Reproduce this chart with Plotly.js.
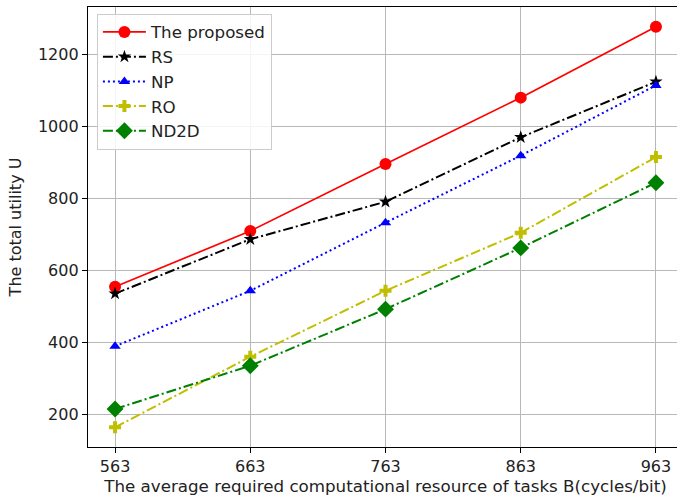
<!DOCTYPE html>
<html>
<head>
<meta charset="utf-8">
<script src="https://cdn.plot.ly/plotly-3.0.1.min.js"></script>
<style>html,body{margin:0;padding:0;overflow:hidden;background:#fff;}#chart{width:690px;height:502px;}</style>
</head>
<body>
<div id="chart"></div>
<script>
const xTicks = [563, 663, 763, 863, 963];
const proposed = [554, 709, 895, 1079, 1276];
const rs = [535, 686, 790, 969, 1123];
const np = [389, 543, 732, 918, 1113];
const ro = [164, 360, 543, 704, 914];
const nd2d = [215, 335, 492, 662, 843];

const font = {family: 'DejaVu Sans', size: 16, color: '#222'};
const dashdot = '10px,3px,2px,3px';

const traces = [
  {name: 'The proposed', y: proposed, line: {color: '#ff0000', width: 1.7, dash: 'solid'}, marker: {symbol: 'circle', size: 12, color: '#ff0000'}},
  {name: 'RS', y: rs, line: {color: '#000000', width: 2, dash: dashdot}, marker: {symbol: 'star', size: 10, color: '#000000'}},
  {name: 'NP', y: np, line: {color: '#0000ff', width: 2, dash: '2px,3px'}, marker: {symbol: 'triangle-up', size: 10, color: '#0000ff'}},
  {name: 'RO', y: ro, line: {color: '#bfbf00', width: 2, dash: dashdot}, marker: {symbol: 'cross', size: 10, color: '#bfbf00'}},
  {name: 'ND2D', y: nd2d, line: {color: '#008000', width: 2, dash: dashdot}, marker: {symbol: 'diamond', size: 13, color: '#008000'}}
].map(t => Object.assign({x: xTicks, type: 'scatter', mode: 'lines+markers'}, t));

const layout = {
  width: 690, height: 502,
  margin: {l: 88, r: 7, t: 7, b: 55},
  paper_bgcolor: '#fff', plot_bgcolor: '#fff',
  font: font,
  showlegend: true,
  legend: {x: 0.015, y: 0.985, xanchor: 'left', yanchor: 'top', bgcolor: 'rgba(255,255,255,0.85)', bordercolor: '#cccccc', borderwidth: 1, font: Object.assign({}, font, {size: 16.7}), tracegroupgap: 0, itemwidth: 43},
  xaxis: {
    range: [543, 983], tickvals: xTicks, ticktext: xTicks.map(String),
    showgrid: true, gridcolor: '#b8b8b8', gridwidth: 1,
    showline: true, linecolor: '#000', linewidth: 1.2, mirror: true,
    ticks: 'outside', ticklen: 5, tickcolor: '#000', zeroline: false,
    tickfont: font,
    title: {text: 'The average required computational resource of tasks B(cycles/bit)', font: Object.assign({}, font, {size: 16.7}), standoff: 5}
  },
  yaxis: {
    range: [109.5, 1330.5], tickvals: [200, 400, 600, 800, 1000, 1200],
    showgrid: true, gridcolor: '#b8b8b8', gridwidth: 1,
    showline: true, linecolor: '#000', linewidth: 1.2, mirror: true,
    ticks: 'outside', ticklen: 5, tickcolor: '#000', zeroline: false,
    tickfont: font,
    title: {text: 'The total utility U', font: font, standoff: 12}
  }
};

Plotly.newPlot('chart', traces, layout, {displayModeBar: false, staticPlot: true});
</script>
</body>
</html>
